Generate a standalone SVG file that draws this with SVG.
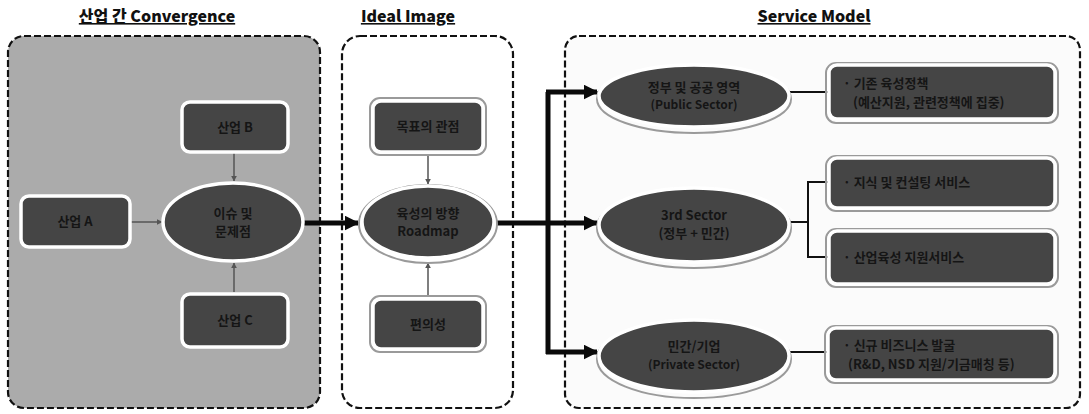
<svg xmlns="http://www.w3.org/2000/svg" width="1089" height="414" viewBox="0 0 1089 414">
  <defs>
    <style>
      .title { font-family: "Noto Sans CJK KR", "Noto Sans", sans-serif; font-weight: 900; font-size: 16px; fill: #111; text-decoration: underline; }
      .lbl { font-family: "Noto Sans CJK KR", "Noto Sans", sans-serif; font-weight: 700; font-size: 13px; fill: #151515; }
      .lbl-s { font-family: "Noto Sans CJK KR", "Noto Sans", sans-serif; font-weight: 700; font-size: 12px; fill: #151515; }
      .frame { stroke: #111; stroke-width: 2.2; stroke-dasharray: 7 3; }
      .node { fill: #454545; stroke: #fff; stroke-width: 3.5; }
      .halo { fill: none; stroke: #9a9a9a; stroke-width: 2; }
      .thin { fill: none; stroke: #555; stroke-width: 1.5; }
      .thick { fill: none; stroke: #0a0a0a; stroke-width: 5; }
      .link { fill: none; stroke: #111; stroke-width: 2; }
    </style>
    <marker id="arrSmall" viewBox="0 0 10 10" refX="9" refY="5" markerWidth="6" markerHeight="6" orient="auto" markerUnits="userSpaceOnUse">
      <path d="M0,0 L10,5 L0,10 z" fill="#555"/>
    </marker>
    <marker id="arrBig" viewBox="0 0 10 10" refX="9" refY="5" markerWidth="15" markerHeight="15" orient="auto" markerUnits="userSpaceOnUse">
      <path d="M0,0 L10,5 L0,10 z" fill="#0a0a0a"/>
    </marker>
  </defs>

  <rect width="1089" height="414" fill="#fff"/>

  <!-- section titles -->
  <g id="titles">
    <text class="title" x="157" y="22" text-anchor="middle">산업 간 Convergence</text>
    <text class="title" x="408" y="22" text-anchor="middle">Ideal Image</text>
    <text class="title" x="814" y="22" text-anchor="middle">Service Model</text>
  </g>

  <!-- section frames -->
  <g id="frames">
    <rect class="frame" x="8" y="36" width="312" height="372" rx="16" fill="#ababab"/>
    <rect class="frame" x="342" y="36" width="171" height="372" rx="18" fill="#fff"/>
    <rect class="frame" x="565" y="36" width="515" height="372" rx="14" fill="#fbfbfb"/>
  </g>

  <!-- connectors -->
  <g id="connectors">
    <line class="thin" x1="130" y1="222" x2="162" y2="222" marker-end="url(#arrSmall)"/>
    <line class="thin" x1="234" y1="153" x2="234" y2="181" marker-end="url(#arrSmall)"/>
    <line class="thin" x1="234" y1="292" x2="234" y2="263" marker-end="url(#arrSmall)"/>
    <line class="thin" x1="428" y1="156" x2="428" y2="184" marker-end="url(#arrSmall)"/>
    <line class="thin" x1="428" y1="296" x2="428" y2="263" marker-end="url(#arrSmall)"/>
    <line class="thick" x1="303" y1="223" x2="358" y2="223" marker-end="url(#arrBig)"/>
    <polyline class="thick" points="497,223 548,223"/>
    <line class="thick" x1="548" y1="92" x2="548" y2="354"/>
    <line class="thick" x1="546" y1="92" x2="597" y2="92" marker-end="url(#arrBig)"/>
    <line class="thick" x1="548" y1="223" x2="597" y2="223" marker-end="url(#arrBig)"/>
    <line class="thick" x1="546" y1="352" x2="597" y2="352" marker-end="url(#arrBig)"/>
    <line class="link" x1="790" y1="92" x2="828" y2="92"/>
    <polyline class="link" points="790,222 808,222"/>
    <polyline class="link" points="828,182 808,182 808,257 828,257"/>
    <line class="link" x1="790" y1="352" x2="827" y2="352"/>
  </g>

  <!-- industry convergence -->
  <g id="industryB">
    <rect class="node" x="182" y="102" width="106" height="50" rx="8"/>
    <text class="lbl" x="235" y="132" text-anchor="middle">산업 B</text>
  </g>
  <g id="industryA">
    <rect class="node" x="21" y="196" width="109" height="51" rx="8"/>
    <text class="lbl" x="75" y="226" text-anchor="middle">산업 A</text>
  </g>
  <g id="issues">
    <ellipse class="node" cx="233" cy="222" rx="70" ry="39"/>
    <text class="lbl" x="233" y="218" text-anchor="middle">이슈 및</text>
    <text class="lbl" x="233" y="236" text-anchor="middle">문제점</text>
  </g>
  <g id="industryC">
    <rect class="node" x="182" y="294" width="106" height="53" rx="8"/>
    <text class="lbl" x="235" y="325" text-anchor="middle">산업 C</text>
  </g>

  <!-- ideal image -->
  <g id="goalView">
    <rect class="halo" x="370" y="98" width="116" height="57" rx="10"/>
    <rect class="node" x="373" y="101" width="110" height="51" rx="8"/>
    <text class="lbl" x="428" y="131" text-anchor="middle">목표의 관점</text>
  </g>
  <g id="roadmap">
    <ellipse class="halo" cx="428" cy="224" rx="69" ry="39"/>
    <ellipse class="node" cx="428" cy="222" rx="66" ry="36"/>
    <text class="lbl" x="428" y="218" text-anchor="middle">육성의 방향</text>
    <text class="lbl" x="428" y="236" text-anchor="middle">Roadmap</text>
  </g>
  <g id="convenience">
    <rect class="halo" x="370" y="296" width="116" height="56" rx="10"/>
    <rect class="node" x="373" y="299" width="110" height="50" rx="8"/>
    <text class="lbl" x="428" y="329" text-anchor="middle">편의성</text>
  </g>

  <!-- service model -->
  <g id="publicSector">
    <ellipse class="halo" cx="694" cy="99" rx="97" ry="34"/>
    <ellipse class="node" cx="694" cy="96" rx="95" ry="31"/>
    <text class="lbl" x="694" y="92" text-anchor="middle">정부 및 공공 영역</text>
    <text class="lbl-s" x="694" y="109" text-anchor="middle">(Public Sector)</text>
  </g>
  <g id="thirdSector">
    <ellipse class="halo" cx="694" cy="228" rx="97" ry="40"/>
    <ellipse class="node" cx="694" cy="225" rx="95" ry="37"/>
    <text class="lbl" x="694" y="220" text-anchor="middle">3rd Sector</text>
    <text class="lbl" x="694" y="238" text-anchor="middle">(정부 + 민간)</text>
  </g>
  <g id="privateSector">
    <ellipse class="halo" cx="694" cy="359" rx="97" ry="39"/>
    <ellipse class="node" cx="694" cy="356" rx="95" ry="36"/>
    <text class="lbl" x="694" y="351" text-anchor="middle">민간/기업</text>
    <text class="lbl-s" x="694" y="369" text-anchor="middle">(Private Sector)</text>
  </g>

  <g id="policy">
    <rect class="halo" x="826" y="63" width="232" height="60" rx="10"/>
    <rect class="node" x="829" y="65" width="226" height="54" rx="8"/>
    <text class="lbl" x="843" y="88">· 기존 육성정책</text>
    <text class="lbl" x="853" y="107">(예산지원, 관련정책에 집중)</text>
  </g>
  <g id="consulting">
    <rect class="halo" x="826" y="156" width="232" height="55" rx="10"/>
    <rect class="node" x="829" y="158" width="226" height="50" rx="8"/>
    <text class="lbl" x="843" y="187">· 지식 및 컨설팅 서비스</text>
  </g>
  <g id="support">
    <rect class="halo" x="826" y="229" width="232" height="58" rx="10"/>
    <rect class="node" x="829" y="231" width="226" height="53" rx="8"/>
    <text class="lbl" x="843" y="262">· 산업육성 지원서비스</text>
  </g>
  <g id="newBusiness">
    <rect class="halo" x="825" y="326" width="233" height="57" rx="10"/>
    <rect class="node" x="828" y="328" width="227" height="52" rx="8"/>
    <text class="lbl" x="843" y="350">· 신규 비즈니스 발굴</text>
    <text class="lbl" x="848" y="369">(R&amp;D, NSD 지원/기금매칭 등)</text>
  </g>
</svg>
